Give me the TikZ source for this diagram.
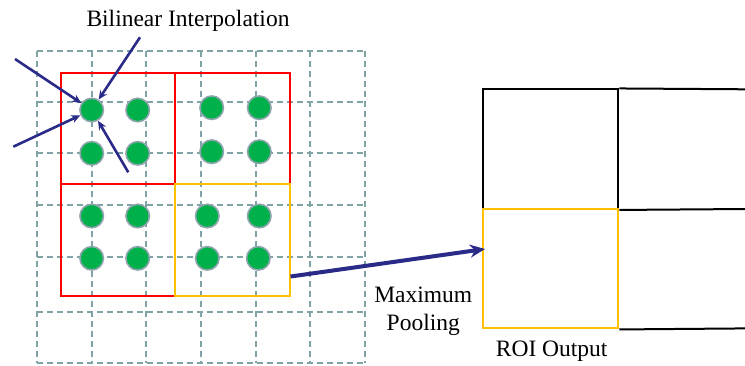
\documentclass[tikz,border=0pt]{standalone}
\usepackage{fontspec}
\newfontfamily\timesf{LiberationSerif}[Extension=.ttf,UprightFont=*-Regular,BoldFont=*-Bold]
\usetikzlibrary{arrows.meta,calc}
\definecolor{gridc}{HTML}{80A4A6}
\definecolor{dotg}{HTML}{00B04A}
\definecolor{doto}{HTML}{8FA5AE}
\definecolor{navy}{HTML}{2A2A88}
\definecolor{gold}{HTML}{FFC000}
\begin{document}
\begin{tikzpicture}[x=1pt,y=-1pt,
  gridline/.style={draw=gridc,line width=1.8pt,dash pattern=on 6pt off 4pt},
  redbox/.style={draw=red,line width=2pt,rectangle,inner sep=0pt,minimum width=114.5pt,minimum height=111.6pt},
  goldbox/.style={redbox,draw=gold},
  dot/.style={circle,fill=dotg,draw=doto,line width=1.6pt,minimum size=23.5pt,inner sep=0pt},
  navarr/.style={draw=navy,line width=2.6pt,-{Stealth[length=9pt,width=8pt]}},
  bigarr/.style={draw=navy,line width=4pt,-{Stealth[length=15pt,width=13pt]}},
  outcell/.style={draw=black,line width=2pt,rectangle,inner sep=0pt,minimum width=135pt,minimum height=119.5pt},
  goldcell/.style={outcell,draw=gold},
  lbl/.style={font=\timesf\fontsize{23.5}{28.3}\selectfont,inner sep=0pt,align=center}
]
\useasboundingbox (0,0) rectangle (745,365);
% dashed grid
\foreach \x in {36.7,91.7,146,201,256,310,365}
  \draw[gridline] (\x,50.7) -- (\x,363.3);
\foreach \y in {50.7,101.7,153.3,205,257.3,311.7,363.3}
  \draw[gridline] (36.7,\y) -- (365,\y);
% red / gold boxes
\node[redbox] (b11) at (118,128.5) {};
\node[redbox] (b12) at (232.5,128.5) {};
\node[redbox] (b21) at (118,240.2) {};
\node[goldbox] (b22) at (232.5,240.2) {};
% dots
\foreach \n/\x/\y in {d11/91.7/110, d12/137.7/110, d21/91.7/153.3, d22/137.7/153.3,
  d13/211.7/107.7, d14/259.3/107.7, d23/211.7/151.7, d24/259.3/151.7,
  d31/91.7/216, d32/137.7/216, d41/91.7/258.3, d42/137.7/258.3,
  d33/207.3/216, d34/259.3/216, d43/207.3/258.3, d44/258.3/258.3}
  \node[dot] (\n) at (\x,\y) {};
% bilinear arrows
\coordinate (a1) at (15,59);
\coordinate (a2) at (140,37.3);
\coordinate (a3) at (13.3,146.7);
\coordinate (a4) at (128.3,172.3);
\draw[navarr] (a1) -- (d11);
\draw[navarr] (a2) -- (d11);
\draw[navarr] (a3) -- (d11);
\draw[navarr] (a4) -- (d11);
\node[lbl] (bil) at (188,20.7) {Bilinear Interpolation};
% output grid
\node[outcell] (o11) at (550.8,149.2) {};
\node[outcell] (o21) at (550.8,268.7) {};
\coordinate (e1) at (746,89.3);
\coordinate (e2) at (746,209);
\coordinate (e3) at (746,328.4);
\draw[black,line width=2pt] (o11.north east) -- (e1);
\draw[black,line width=2pt] (o11.south east) -- (e2);
\draw[black,line width=2pt] (o21.south east) -- (e3);
\node[goldcell] (og) at (550.8,268.7) {};
% pooling arrow
\coordinate (ps) at (290.5,276.5);
\coordinate (pe) at (485,249);
\draw[bigarr] (ps) -- (pe);
\node[lbl] (mp) at (423.3,311) {Maximum\\Pooling};
\node[lbl] (roi) at (551.7,351.7) {ROI Output};
\end{tikzpicture}
\end{document}
